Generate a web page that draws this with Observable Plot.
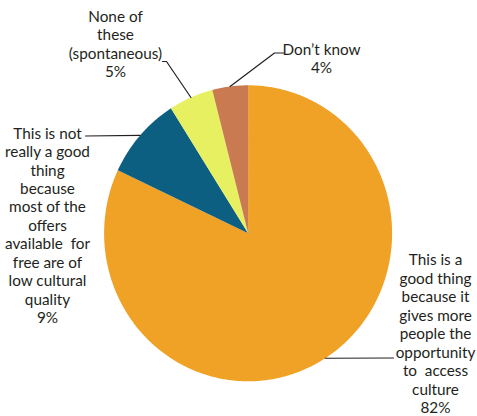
<!DOCTYPE html>
<html>
<head>
<meta charset="utf-8">
<script src="https://cdn.jsdelivr.net/npm/d3@7"></script>
<script src="https://cdn.jsdelivr.net/npm/@observablehq/plot@0.6"></script>
<style>
  html, body { margin: 0; padding: 0; background: #fff; }
  svg text { white-space: pre; }
</style>
</head>
<body>
<div id="chart"></div>
<script>
// ---- data ----
const categories = ["good", "notGood", "none", "dontKnow"];
const values = [82, 9, 5, 4];
const labels = [
  "This is a\ngood thing\nbecause it\ngives more\npeople the\nopportunity\nto  access\nculture\n82%",
  "This is not\nreally a good\nthing\nbecause\nmost of the\noffers\navailable  for\nfree are of\nlow cultural\nquality\n9%",
  "None of\nthese\n(spontaneous)\n5%",
  "Don\u2019t know\n4%"
];
const colors = ["#f0a227", "#0d5f82", "#e6f061", "#c97a51"];

// ---- layout (pixel space) ----
const W = 477, H = 416;
const cx = 247.6, cy = 232.8, RX = 144, RY = 148;
const labelPos = [
  {x: 435, y: 251.8},
  {x: 47, y: 125},
  {x: 115, y: 8.4},
  {x: 321, y: 41.2}
];
const elbows = [
  [[393, 357.5]],
  [[85, 135.5]],
  [[166, 61], [162, 61]],
  [[274, 52.5], [283, 52.5]]
];

const pie = d3.pie().sort(null).value(d => d.value);
const table = categories.map((c, i) => ({key: c, value: values[i], label: labels[i], color: colors[i]}));
const arcs = pie(table);

const pt = (a) => [cx + RX * Math.sin(a), cy - RY * Math.cos(a)];

const slicePts = [];
arcs.forEach(a => {
  slicePts.push({key: a.data.key, x: cx, y: cy});
  const n = Math.max(2, Math.ceil((a.endAngle - a.startAngle) / (Math.PI / 360)));
  for (let k = 0; k <= n; k++) {
    const ang = a.startAngle + (a.endAngle - a.startAngle) * k / n;
    const [x, y] = pt(ang);
    slicePts.push({key: a.data.key, x, y});
  }
});

const leaderPts = [];
arcs.forEach((a, i) => {
  const mid = (a.startAngle + a.endAngle) / 2;
  const [x, y] = pt(mid);
  leaderPts.push({key: a.data.key, x, y});
  elbows[i].forEach(([ex, ey]) => leaderPts.push({key: a.data.key, x: ex, y: ey}));
});

const textData = table.map((d, i) => ({...d, x: labelPos[i].x, y: labelPos[i].y}));

const chart = Plot.plot({
  width: W,
  height: H,
  margin: 0,
  x: {domain: [0, W], range: [0, W], axis: null},
  y: {domain: [0, H], range: [0, H], axis: null},
  color: {domain: categories, range: colors},
  style: {fontFamily: "Lato, 'Open Sans', sans-serif", background: "#fff"},
  marks: [
    Plot.line(slicePts, {x: "x", y: "y", z: "key", fill: "key", stroke: "none", curve: "linear"}),
    Plot.line(leaderPts, {x: "x", y: "y", z: "key", stroke: "#231f20", strokeWidth: 1.2, curve: "linear"}),
    Plot.text(textData, {
      x: "x", y: "y", text: "label",
      textAnchor: "middle", lineAnchor: "top",
      lineHeight: 1.206, fontSize: 15.3, fill: "#231f20"
    })
  ]
});
document.getElementById("chart").appendChild(chart);
</script>
</body>
</html>
